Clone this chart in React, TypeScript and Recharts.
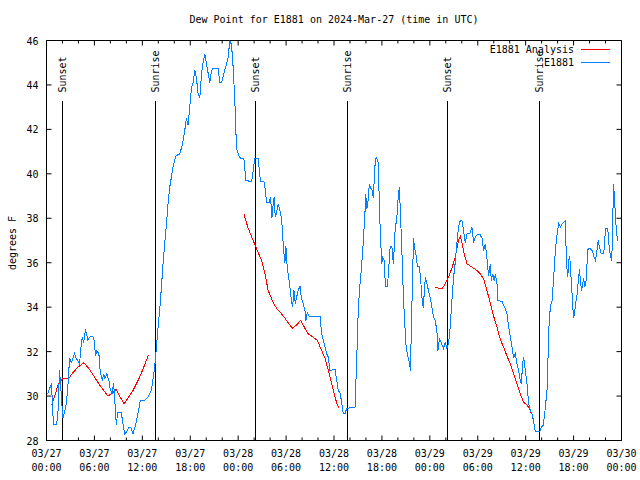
import React from "react";
import { LineChart, Line, XAxis, YAxis, ReferenceLine, ReferenceArea } from "recharts";

// hours since 03/27 00:00 UTC
const blueHours = [
  0.13, 0.63, 0.79, 0.94, 1.22, 1.42, 1.63, 1.76, 1.88, 2.04, 2.26, 2.47, 2.67, 2.89, 3.1, 3.51, 3.73,
  4.14, 4.35, 4.48, 4.64, 4.89, 5.18, 5.39, 5.73, 5.93, 6.15, 6.31, 6.56, 6.74, 6.99, 7.15, 7.31, 7.56,
  7.81, 7.99, 8.24, 8.4, 8.66, 8.74, 8.91, 9.37, 9.57, 9.78, 10.07, 10.32, 10.62, 10.83, 11.16, 11.45,
  11.75, 12.29, 12.71, 13.13, 13.55, 13.76, 13.96, 14.17, 14.39, 14.59, 14.8, 15.02, 15.22, 15.43,
  15.64, 15.84, 16.18, 16.68, 17.02, 17.31, 17.52, 17.72, 17.94, 18.15, 18.35, 18.57, 18.78, 18.98,
  19.19, 19.41, 19.61, 19.82, 20.03, 20.23, 20.45, 20.66, 20.86, 21.49, 21.7, 21.91, 22.2, 22.54,
  22.74, 22.96, 23.17, 23.37, 23.58, 23.71, 23.8, 24.12, 24.3, 24.71, 24.96, 25.68, 25.88, 26.09,
  26.51, 26.72, 26.81, 27.22, 27.35, 27.56, 27.89, 28.06, 28.22, 28.39, 28.51, 28.64, 28.81, 29.01,
  29.23, 29.44, 29.57, 29.73, 29.85, 29.98, 30.14, 30.32, 30.48, 30.7, 30.82, 30.98, 31.15, 31.32,
  31.52, 31.74, 31.9, 32.15, 32.36, 32.49, 32.65, 32.9, 34.25, 34.46, 34.66, 34.87, 35.09, 35.29,
  35.5, 36.13, 36.34, 36.54, 36.75, 36.97, 37.17, 37.38, 37.59, 38.63, 38.85, 39.05, 39.26, 39.48,
  39.68, 39.89, 39.98, 40.1, 40.23, 40.43, 40.61, 40.77, 40.93, 41.11, 41.27, 41.56, 41.68, 41.86,
  41.98, 42.11, 42.27, 42.44, 42.69, 42.81, 43.03, 43.24, 43.44, 43.65, 43.87, 44.07, 44.19, 44.37,
  44.53, 44.69, 44.91, 45.03, 45.25, 45.45, 45.57, 45.7, 45.87, 45.95, 46.07, 46.29, 46.45, 46.7,
  46.88, 47.04, 47.2, 47.33, 47.45, 47.63, 47.83, 48.04, 48.26, 48.46, 48.67, 48.88, 49.01, 49.21,
  49.42, 49.71, 49.92, 50.14, 50.34, 50.55, 50.76, 50.96, 51.18, 51.39, 51.59, 51.81, 52.02, 52.22,
  52.43, 52.65, 52.85, 53.06, 53.27, 53.48, 53.69, 53.9, 54.31, 54.53, 54.73, 54.94, 55.15, 55.36,
  55.57, 55.7, 55.86, 56.07, 56.2, 56.41, 56.53, 57.04, 57.24, 57.45, 57.66, 57.87, 58.08, 58.29,
  58.49, 58.7, 58.92, 59.12, 59.33, 59.46, 59.62, 59.75, 59.96, 60.17, 60.37, 60.59, 60.8, 61.0,
  61.21, 61.75, 61.97, 62.22, 62.47, 62.68, 62.78, 62.93, 63.1, 63.31, 63.51, 63.72, 63.94, 64.14,
  64.35, 64.56, 64.76, 64.98, 65.1, 65.27, 65.39, 65.52, 65.69, 65.82, 65.94, 66.02, 66.15, 66.32,
  66.45, 66.57, 66.74, 66.86, 66.99, 67.15, 67.27, 67.4, 67.57, 67.78, 68.02, 68.33, 68.53, 68.74,
  68.87, 69.08, 69.24, 69.46, 69.78, 70.0, 70.28, 70.46, 70.62, 70.78, 70.87, 71.0, 71.12, 71.25,
  71.38, 71.54,
];

const blueTemps = [
  30.1, 30.56, 29.2, 28.7, 28.7, 29.1, 31.15, 30.56, 29.9, 29.0, 29.25, 29.65, 30.4, 31.7, 31.5, 31.9, 31.7,
  31.45, 32.35, 32.65, 32.4, 33.0, 32.5, 32.65, 32.7, 32.6, 31.8, 32.05, 31.9, 31.05, 30.7, 31.0, 30.8, 31.0,
  30.7, 30.25, 30.15, 30.6, 29.2, 28.7, 29.25, 29.25, 28.75, 28.3, 28.4, 28.6, 28.55, 28.3, 28.7, 29.2,
  29.8, 29.8, 29.95, 30.25, 31.3, 32.2, 33.05, 33.85, 34.9, 35.95, 36.85, 37.75, 38.65, 39.4,
  39.85, 40.3, 40.8, 40.9, 41.3, 41.95, 42.5, 42.2, 43.0, 43.85, 44.1, 44.65, 44.3, 43.6,
  43.4, 44.5, 45.0, 45.4, 44.95, 44.55, 44.1, 44.65, 44.75, 44.75, 44.1, 44.1, 44.5, 44.95,
  45.25, 46.0, 45.8, 44.8, 43.3, 41.95, 41.15, 40.8, 40.7, 40.7, 39.7, 39.65, 40.15, 40.7,
  40.7, 39.9, 39.65, 39.65, 39.4, 38.7, 38.7, 38.95, 38.0, 38.65, 38.95, 38.05, 38.25, 38.65,
  38.35, 38.0, 37.2, 36.45, 36.0, 36.75, 35.8, 35.35, 34.9, 34.2, 34.0, 34.75, 34.15, 34.45,
  34.75, 34.95, 34.45, 34.15, 33.85, 33.4, 33.75, 33.6, 33.6, 32.8, 32.5, 32.2, 31.9, 31.75,
  31.15, 31.2, 30.7, 30.25, 30.15, 29.7, 29.2, 29.2, 29.45, 29.5, 31.7, 34.0, 35.05, 35.95,
  37.0, 38.35, 39.1, 38.4, 38.65, 39.55, 39.35, 39.25, 38.9, 40.3, 40.75, 40.5, 38.5, 36.85,
  35.95, 36.25, 36.1, 34.95, 34.95, 35.5, 36.7, 36.75, 35.95, 37.45, 38.05, 39.1, 39.4, 37.75,
  36.25, 34.45, 32.95, 32.2, 31.8, 31.5, 31.15, 33.25, 35.8, 37.1, 36.7, 36.3, 35.85, 35.85,
  35.1, 34.3, 33.95, 34.9, 35.35, 35.05, 34.75, 34.45, 34.0, 33.55, 33.4, 32.95, 32.05, 32.6,
  32.4, 32.15, 32.4, 32.15, 32.35, 33.1, 34.3, 35.3, 36.0, 36.9, 37.6, 37.9, 37.9, 37.45,
  36.9, 37.3, 37.3, 37.35, 37.6, 36.9, 37.15, 37.25, 37.25, 37.1, 36.55, 36.85, 36.2, 35.4,
  35.95, 35.2, 35.5, 35.2, 35.5, 35.05, 34.3, 34.25, 34.1, 33.95, 33.7, 33.1, 32.65, 32.2,
  31.7, 31.9, 31.45, 31.15, 30.7, 30.55, 31.45, 31.75, 31.15, 30.55, 29.65, 29.35, 29.2, 28.85,
  28.4, 28.4, 28.6, 28.7, 29.5, 30.3, 31.5, 33.25, 34.05, 34.3, 35.35, 36.55, 37.3, 37.75,
  37.6, 37.75, 37.8, 37.9, 36.0, 35.35, 36.1, 36.3, 35.3, 34.55, 33.8, 33.5, 33.85, 34.3,
  34.6, 35.1, 35.7, 35.2, 34.75, 35.05, 35.3, 34.9, 35.2, 36.6, 36.65, 36.55, 36.3, 36.1,
  36.4, 37.0, 36.7, 36.4, 36.4, 37.55, 37.55, 36.7, 36.3, 36.1, 37.3, 39.55, 38.9, 38.1,
  37.3, 37.0,
];

// analysis series, null = gap
const redHours = [
  0.63, 1.0, 1.42, 1.84, 2.04, 2.8, 3.3, 3.93, 4.68, 5.39, 6.02, 6.65, 7.28, 7.69, 8.12, 8.74, 9.16,
  9.7, 10.2, 10.83, 11.67, 12.29, 12.76, 18,
  24.71, 25.25, 25.88, 26.51, 26.93, 27.35, 27.76, 28.39, 28.81, 29.44, 30.07, 30.77, 31.32, 31.82,
  32.36, 32.78, 33.4, 33.91, 34.46, 34.87, 35.29, 35.71, 36.13, 36.42, 36.67, 42,
  48.67, 49.08, 49.58, 49.92, 50.34, 50.76, 51.18, 51.59, 51.81, 52.02, 52.31, 52.65, 53.27, 53.9,
  54.31, 54.73, 55.15, 55.57, 55.98, 56.41, 56.82, 57.24, 57.66, 58.08, 58.49, 58.92, 59.33, 59.75,
  60.17, 60.5, 60.68,
];
const redTemps = [
  29.6, 29.95, 30.5, 30.7, 30.8, 30.8, 31.05, 31.3, 31.5, 31.2, 30.85, 30.5, 30.2, 30.0, 30.1, 30.3, 30.0,
  29.65, 29.9, 30.25, 30.85, 31.4, 31.85, null,
  38.2, 37.55, 37.0, 36.45, 36.1, 35.5, 34.75, 34.2, 33.95, 33.7, 33.4, 33.05, 33.2, 33.4,
  33.05, 32.8, 32.65, 32.5, 32.05, 31.7, 31.15, 30.55, 29.95, 29.6, 29.45, null,
  34.9, 34.85, 34.85, 35.05, 35.35, 35.75, 36.25, 37.0, 37.2, 36.9, 36.4, 35.95, 35.8, 35.65,
  35.5, 35.28, 34.75, 34.2, 33.6, 33.1, 32.55, 32.2, 31.8, 31.45, 31.0, 30.55, 30.1, 29.72,
  29.6, 29.42, 29.25,
];

const sunHours = [1.97, 13.67, 26.13, 37.67, 50.21, 61.75];
const sunLabels = ["Sunset", "Sunrise", "Sunset", "Sunrise", "Sunset", "Sunrise"];

const xTicks = [0, 2, 4, 6, 8, 10, 12, 14, 16, 18, 20, 22, 24, 26, 28, 30, 32, 34, 36, 38, 40, 42, 44, 46, 48, 50, 52, 54, 56, 58, 60, 62, 64, 66, 68, 70, 72];
const yTicks = [28, 30, 32, 34, 36, 38, 40, 42, 44, 46];

const RED = "#ff0000";
const BLUE = "#0080ff";
const FONT = "'DejaVu Sans Mono', monospace";
const PLOT_H = 400;
const PLOT_W = 575;

const blueData = blueHours.map((h, i) => ({ h, v: blueTemps[i] }));
const redData = redHours.map((h, i) => ({ h, v: redTemps[i] }));

const pad = (n: number) => (n < 10 ? "0" + n : "" + n);

const XTick = (props: any) => {
  const { x, y, payload } = props;
  const v = payload.value;
  const major = v % 6 === 0;
  const len = major ? 5 : 3;
  const day = 27 + Math.floor(v / 24);
  const hr = v % 24;
  return (
    <g>
      <line x1={x} x2={x} y1={y} y2={y - len} stroke="#000" />
      <line x1={x} x2={x} y1={y - PLOT_H} y2={y - PLOT_H + len} stroke="#000" />
      {major && (
        <text x={x} y={y + 16} textAnchor="middle" fontFamily={FONT} fontSize={10} fill="#000">
          {"03/" + day}
        </text>
      )}
      {major && (
        <text x={x} y={y + 30} textAnchor="middle" fontFamily={FONT} fontSize={10} fill="#000">
          {pad(hr) + ":00"}
        </text>
      )}
    </g>
  );
};

const YTick = (props: any) => {
  const { x, y, payload } = props;
  return (
    <g>
      <line x1={x} x2={x + 5} y1={y} y2={y} stroke="#000" />
      <line x1={x + PLOT_W - 5} x2={x + PLOT_W} y1={y} y2={y} stroke="#000" />
      <text x={x - 8} y={y + 4} textAnchor="end" fontFamily={FONT} fontSize={10} fill="#000">
        {payload.value}
      </text>
    </g>
  );
};

const SunLabel = (props: any) => {
  const { viewBox, text } = props;
  if (!viewBox) return null;
  const x = viewBox.x;
  const y = viewBox.y - 8;
  return (
    <text
      x={x}
      y={y}
      transform={`rotate(-90 ${x} ${y})`}
      textAnchor="start"
      dominantBaseline="central"
      fontFamily={FONT}
      fontSize={10}
      fill="#000"
    >
      {text}
    </text>
  );
};

export default function App() {
  return (
    <div style={{ position: "absolute", left: 0, top: 0, width: 640, height: 480, background: "#fff" }}>
      <LineChart
        width={640}
        height={480}
        margin={{ top: 40.5, right: 18.5, bottom: 0, left: 0 }}
      >
        <XAxis
          dataKey="h"
          type="number"
          domain={[0, 72]}
          ticks={xTicks}
          interval={0}
          allowDataOverflow
          axisLine={false}
          tickLine={false}
          tickSize={0}
          tickMargin={0}
          height={39.5}
          tick={<XTick />}
        />
        <YAxis
          type="number"
          domain={[28, 46]}
          ticks={yTicks}
          interval={0}
          allowDataOverflow
          axisLine={false}
          tickLine={false}
          tickSize={0}
          tickMargin={0}
          width={46.5}
          tick={<YTick />}
        />
        <ReferenceArea x1={0} x2={72} y1={28} y2={46} fill="none" stroke="#000" strokeWidth={1} fillOpacity={0} />
        {sunHours.map((h, i) => (
          <ReferenceLine
            key={i}
            segment={[{ x: h, y: 28 }, { x: h, y: 43.3 }]}
            stroke="#000"
            strokeWidth={1}
            shapeRendering="crispEdges"
            label={<SunLabel text={sunLabels[i]} />}
          />
        ))}
        <Line
          data={redData}
          dataKey="v"
          type="linear"
          stroke={RED}
          strokeWidth={1}
          dot={false}
          activeDot={false}
          connectNulls={false}
          shapeRendering="crispEdges"
          isAnimationActive={false}
        />
        <Line
          data={blueData}
          dataKey="v"
          type="linear"
          stroke={BLUE}
          strokeWidth={1}
          dot={false}
          activeDot={false}
          shapeRendering="crispEdges"
          isAnimationActive={false}
        />
      </LineChart>
      <svg
        width={640}
        height={480}
        style={{ position: "absolute", left: 0, top: 0, pointerEvents: "none" }}
      >
        <text x={334} y={23} textAnchor="middle" fontFamily={FONT} fontSize={10} fill="#000">
          Dew Point for E1881 on 2024-Mar-27 (time in UTC)
        </text>
        <text
          x={12}
          y={243}
          transform="rotate(-90 12 243)"
          textAnchor="middle"
          dominantBaseline="central"
          fontFamily={FONT}
          fontSize={10}
          fill="#000"
        >
          degrees F
        </text>
        <text x={574} y={53} textAnchor="end" fontFamily={FONT} fontSize={10} fill="#000">
          E1881 Analysis
        </text>
        <line x1={581} x2={610} y1={49.5} y2={49.5} stroke={RED} />
        <text x={574} y={66} textAnchor="end" fontFamily={FONT} fontSize={10} fill="#000">
          E1881
        </text>
        <line x1={581} x2={610} y1={62.5} y2={62.5} stroke={BLUE} />
      </svg>
    </div>
  );
}
